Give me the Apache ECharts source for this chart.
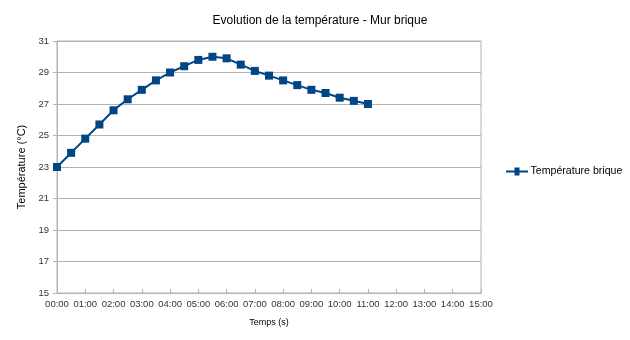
<!DOCTYPE html>
<html><head><meta charset="utf-8">
<script src="https://cdn.jsdelivr.net/npm/echarts@6/dist/echarts.min.js"></script>
<style>html,body{margin:0;padding:0;background:#fff}#c{width:630px;height:340px}</style>
</head><body><div id="c"></div>
<script>
const times = ["00:00","00:30","01:00","01:30","02:00","02:30","03:00","03:30","04:00","04:30","05:00","05:30","06:00","06:30","07:00","07:30","08:00","08:30","09:00","09:30","10:00","10:30","11:00"];
const temperatureBrique = [23.0,23.9,24.8,25.7,26.6,27.3,27.9,28.5,29.0,29.4,29.8,30.0,29.9,29.5,29.1,28.8,28.5,28.2,27.9,27.7,27.4,27.2,27.0];
const seriesName = "Température brique";
function toMin(t){const p=t.split(":");return (+p[0])*60+(+p[1]);}
function fmt(v){const h=Math.floor(v/60),m=v%60;return String(h).padStart(2,"0")+":"+String(m).padStart(2,"0");}
const chart = echarts.init(document.getElementById('c'));
const font = "Liberation Sans";
chart.setOption({
  animation:false,
  textStyle:{fontFamily:font},
  title:{text:"Evolution de la température - Mur brique",left:315,textAlign:'center',top:10,textStyle:{fontSize:12,fontWeight:'normal',color:'#000',fontFamily:font}},
  legend:{left:506,top:166,itemWidth:23,itemHeight:8,icon:'path://M0,3h8.5v-3h5v3h8.5v2h-8.5v3h-5v-3h-8.5z',textStyle:{fontSize:10.6,color:'#000',fontFamily:font,padding:[0,0,0,-3]},itemGap:4,padding:0,data:[seriesName]},
  grid:{left:57,right:149,top:41,bottom:47,containLabel:false,show:true,borderColor:'#b3b3b3',borderWidth:1},
  xAxis:{type:'value',min:0,max:900,interval:60,name:"Temps (s)",nameLocation:'middle',nameGap:25,nameTextStyle:{fontSize:9,color:'#000'},
    axisLine:{show:true,lineStyle:{color:'#b3b3b3'}},axisTick:{show:true,length:4,inside:true,lineStyle:{color:'#b3b3b3'}},
    axisLabel:{formatter:fmt,fontSize:9.5,color:'#333',margin:6},
    splitLine:{show:false}},
  yAxis:{type:'value',min:15,max:31,interval:2,name:"Température (°C)",nameLocation:'middle',nameGap:30,nameTextStyle:{fontSize:11,color:'#000'},
    axisLine:{show:true,lineStyle:{color:'#b3b3b3'}},axisTick:{show:true,length:4,inside:false,lineStyle:{color:'#b3b3b3'}},
    axisLabel:{fontSize:9.5,color:'#333',margin:8},
    splitLine:{show:true,lineStyle:{color:'#b3b3b3',width:1}}},
  series:[{name:seriesName,type:'line',data:times.map((t,i)=>[toMin(t),temperatureBrique[i]]),
    symbol:'rect',symbolSize:8,lineStyle:{color:'#004586',width:2},itemStyle:{color:'#004586'}}]
});
</script></body></html>
